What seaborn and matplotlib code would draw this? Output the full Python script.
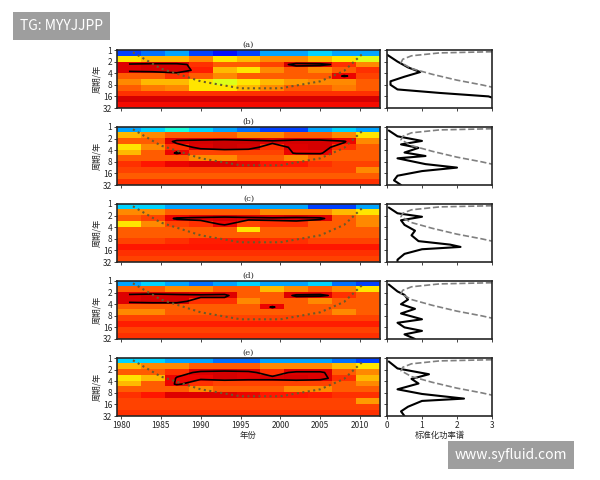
import numpy as np
import seaborn as sns
import matplotlib.pyplot as plt

sns.set_style('ticks')
plt.rcParams['font.family'] = ['Noto Sans CJK SC', 'DejaVu Sans']

# wavelet power (jet scale 0-1), rows = period bands log2 0..5 step 0.5, cols = 3-year blocks 1980-2012
power_a = [
    [0.2,0.25,0.3,0.2,0.15,0.2,0.3,0.3,0.35,0.3,0.3],
    [0.7,0.75,0.75,0.8,0.7,0.75,0.8,0.8,0.75,0.7,0.65],
    [0.96,0.97,0.97,0.9,0.85,0.85,0.88,0.97,0.97,0.9,0.8],
    [0.96,0.97,0.97,0.92,0.75,0.7,0.8,0.85,0.8,0.85,0.9],
    [0.85,0.85,0.9,0.85,0.8,0.85,0.85,0.85,0.85,0.95,0.88],
    [0.8,0.75,0.75,0.7,0.65,0.7,0.75,0.78,0.8,0.8,0.85],
    [0.85,0.82,0.8,0.7,0.7,0.75,0.8,0.85,0.85,0.82,0.85],
    [0.9,0.9,0.9,0.9,0.9,0.9,0.9,0.9,0.9,0.9,0.9],
    [0.97,0.97,0.97,0.97,0.97,0.97,0.97,0.97,0.97,0.97,0.97],
    [0.94,0.94,0.94,0.94,0.94,0.94,0.94,0.94,0.94,0.94,0.94],
]
power_b = [
    [0.3,0.35,0.4,0.35,0.3,0.25,0.2,0.2,0.3,0.35,0.3],
    [0.75,0.8,0.85,0.85,0.85,0.8,0.8,0.85,0.85,0.8,0.7],
    [0.85,0.85,0.96,0.97,0.98,0.98,0.96,0.97,0.97,0.95,0.8],
    [0.7,0.8,0.9,0.96,0.98,0.97,0.9,0.96,0.97,0.9,0.85],
    [0.75,0.85,0.95,0.88,0.88,0.88,0.88,0.95,0.95,0.85,0.85],
    [0.85,0.85,0.85,0.8,0.8,0.85,0.85,0.8,0.85,0.85,0.85],
    [0.9,0.93,0.95,0.96,0.96,0.95,0.93,0.93,0.9,0.88,0.88],
    [0.88,0.88,0.88,0.88,0.88,0.88,0.88,0.88,0.88,0.88,0.8],
    [0.85,0.85,0.85,0.85,0.85,0.85,0.85,0.85,0.85,0.85,0.85],
    [0.9,0.9,0.9,0.9,0.9,0.9,0.9,0.9,0.9,0.9,0.9],
]
power_c = [
    [0.35,0.35,0.3,0.3,0.3,0.3,0.3,0.3,0.2,0.2,0.3],
    [0.8,0.8,0.85,0.85,0.85,0.85,0.8,0.8,0.8,0.75,0.7],
    [0.85,0.88,0.95,0.96,0.97,0.96,0.96,0.97,0.96,0.85,0.8],
    [0.7,0.8,0.88,0.9,0.95,0.88,0.9,0.9,0.85,0.85,0.8],
    [0.85,0.85,0.85,0.85,0.85,0.7,0.85,0.85,0.85,0.85,0.85],
    [0.85,0.85,0.85,0.85,0.85,0.85,0.85,0.85,0.85,0.85,0.85],
    [0.88,0.88,0.9,0.92,0.92,0.92,0.9,0.9,0.88,0.88,0.88],
    [0.93,0.93,0.93,0.93,0.93,0.93,0.93,0.93,0.93,0.93,0.93],
    [0.9,0.9,0.9,0.9,0.9,0.9,0.9,0.9,0.9,0.9,0.9],
    [0.88,0.88,0.88,0.88,0.88,0.88,0.88,0.88,0.88,0.88,0.88],
]
power_d = [
    [0.3,0.35,0.3,0.25,0.3,0.35,0.3,0.3,0.35,0.25,0.2],
    [0.85,0.85,0.8,0.8,0.85,0.85,0.75,0.8,0.85,0.8,0.7],
    [0.96,0.97,0.97,0.96,0.96,0.85,0.85,0.96,0.96,0.9,0.85],
    [0.96,0.97,0.97,0.9,0.9,0.8,0.85,0.85,0.8,0.85,0.85],
    [0.85,0.85,0.85,0.85,0.85,0.85,0.95,0.85,0.85,0.85,0.85],
    [0.8,0.8,0.85,0.85,0.85,0.85,0.85,0.85,0.85,0.8,0.85],
    [0.88,0.88,0.88,0.88,0.88,0.88,0.88,0.88,0.88,0.88,0.88],
    [0.92,0.92,0.92,0.92,0.92,0.92,0.92,0.92,0.92,0.92,0.92],
    [0.88,0.88,0.88,0.88,0.88,0.88,0.88,0.88,0.88,0.88,0.88],
    [0.9,0.9,0.9,0.9,0.9,0.9,0.9,0.9,0.9,0.9,0.9],
]
power_e = [
    [0.35,0.35,0.3,0.3,0.25,0.25,0.3,0.3,0.3,0.25,0.2],
    [0.75,0.8,0.8,0.85,0.85,0.85,0.8,0.8,0.8,0.75,0.7],
    [0.85,0.85,0.9,0.96,0.97,0.96,0.9,0.96,0.96,0.85,0.8],
    [0.7,0.75,0.95,0.95,0.97,0.96,0.96,0.97,0.96,0.9,0.75],
    [0.75,0.85,0.95,0.9,0.88,0.88,0.88,0.88,0.88,0.85,0.8],
    [0.85,0.85,0.85,0.8,0.85,0.85,0.85,0.8,0.8,0.85,0.85],
    [0.9,0.93,0.96,0.96,0.96,0.95,0.93,0.93,0.92,0.9,0.9],
    [0.88,0.88,0.88,0.88,0.88,0.88,0.88,0.88,0.88,0.88,0.78],
    [0.88,0.88,0.88,0.88,0.88,0.88,0.88,0.88,0.88,0.88,0.88],
    [0.9,0.9,0.9,0.9,0.9,0.9,0.9,0.9,0.9,0.9,0.9],
]
powers = [power_a, power_b, power_c, power_d, power_e]

# global spectra: (log2 period, normalized power)
glob_a = [(0.4,0.0),(1.0,0.3),(1.5,0.6),(1.9,0.95),(2.3,0.5),(2.7,0.1),(3.0,0.1),(3.4,0.3),(3.7,1.5),(4.0,2.9),(4.1,3.0)]
glob_b = [(0.3,0.05),(0.8,0.3),(1.2,1.0),(1.5,0.4),(1.8,0.9),(2.2,0.5),(2.5,1.1),(2.7,0.3),(3.2,1.1),(3.5,2.0),(3.8,1.0),(4.2,0.3),(4.6,0.2),(5.0,0.4)]
glob_c = [(0.3,0.05),(0.8,0.3),(1.1,1.0),(1.4,0.4),(1.8,0.5),(2.3,0.8),(2.7,0.7),(3.2,0.9),(3.5,1.8),(3.7,2.1),(3.9,1.0),(4.3,0.5),(4.8,0.3),(5.0,0.3)]
glob_d = [(0.3,0.05),(0.9,0.3),(1.2,0.5),(1.6,0.6),(2.0,0.4),(2.4,0.8),(2.8,0.4),(3.3,1.0),(3.6,0.3),(4.0,0.5),(4.3,1.0),(4.6,0.5),(5.0,0.8)]
glob_e = [(0.3,0.05),(0.9,0.3),(1.4,1.2),(1.8,0.7),(2.2,0.9),(2.7,0.3),(3.1,1.0),(3.5,2.2),(3.7,1.0),(4.2,0.6),(4.6,0.4),(5.0,0.5)]
globs = [glob_a, glob_b, glob_c, glob_d, glob_e]

# 95% significance (dashed) and cone of influence
sig_lp = [0.15,0.25,0.5,0.8,1.1,1.6,2.1,2.6,3.0,3.2]
sig_x = [3.0,1.5,0.7,0.45,0.4,0.7,1.3,2.0,2.7,3.0]
coi_year = [1981.5,1985,1990,1995,2000,2005,2008,2010.5]
coi_lp = [0.2,1.6,2.7,3.3,3.3,2.7,1.8,0.2]

labels = ['(a)', '(b)', '(c)', '(d)', '(e)']
period_ticks = [1, 2, 4, 8, 16, 32]
year_ticks = [1980, 1985, 1990, 1995, 2000, 2005, 2010]

fig = plt.figure(figsize=(6, 4.8), dpi=100)
tops = [50, 127, 204, 281, 358]
h = 58
for i in range(5):
    y0 = 1 - (tops[i] + h) / 480
    ax = fig.add_axes([117/600, y0, 263/600, h/480])
    axg = fig.add_axes([387/600, y0, 105/600, h/480])
    P = np.array(powers[i])
    ax.imshow(P, cmap='jet', vmin=0, vmax=1.05, aspect='auto', interpolation='nearest',
              extent=(1979.5, 2012.5, 5, 0))
    xc = 1979.5 + 1.5 + 3 * np.arange(P.shape[1])
    yc = 0.25 + 0.5 * np.arange(P.shape[0])
    ax.contour(xc, yc[:6], P[:6], levels=[0.94], colors='black', linewidths=1.2)
    ax.plot(coi_year, coi_lp, ls=':', color='#6b5a2a', lw=1.5)
    ax.set_xlim(1979.5, 2012.5)
    ax.set_ylim(5, 0)
    ax.set_yticks(np.log2(period_ticks))
    ax.set_yticklabels(period_ticks, fontsize=6)
    ax.set_xticks(year_ticks)
    ax.set_ylabel('周期/年', fontsize=6, labelpad=1)
    ax.set_title(labels[i], fontsize=6, pad=2, family='DejaVu Serif')
    g = np.array(globs[i])
    sns.lineplot(x=g[:, 1], y=g[:, 0], sort=False, estimator=None, color='black', lw=1.5, ax=axg)
    sns.lineplot(x=sig_x, y=sig_lp, sort=False, estimator=None, color='gray', ls='--', lw=1.2, ax=axg)
    axg.set_xlim(0, 3)
    axg.set_ylim(5, 0)
    axg.set_yticks(np.log2(period_ticks))
    axg.set_yticklabels([])
    axg.set_xticks([0, 1, 2, 3])
    for a in (ax, axg):
        a.tick_params(length=2, width=0.6, pad=1.5)
        for s in a.spines.values():
            s.set_linewidth(1.2)
    if i < 4:
        ax.set_xticklabels([])
        axg.set_xticklabels([])
    else:
        ax.set_xticklabels(year_ticks, fontsize=6)
        axg.set_xticklabels([0, 1, 2, 3], fontsize=6)
        ax.set_xlabel('年份', fontsize=6, labelpad=1)
        axg.set_xlabel('标准化功率谱', fontsize=6, labelpad=1)

fig.text(20/600, 1 - 26/480, 'TG: MYYJJPP', fontsize=10, color='white', va='center',
         bbox=dict(facecolor='#9e9e9e', edgecolor='none', pad=5))
fig.text(455/600, 1 - 455/480, 'www.syfluid.com', fontsize=10, color='white', va='center',
         bbox=dict(facecolor='#9e9e9e', edgecolor='none', pad=5))
fig.savefig('out.png', dpi=100)
